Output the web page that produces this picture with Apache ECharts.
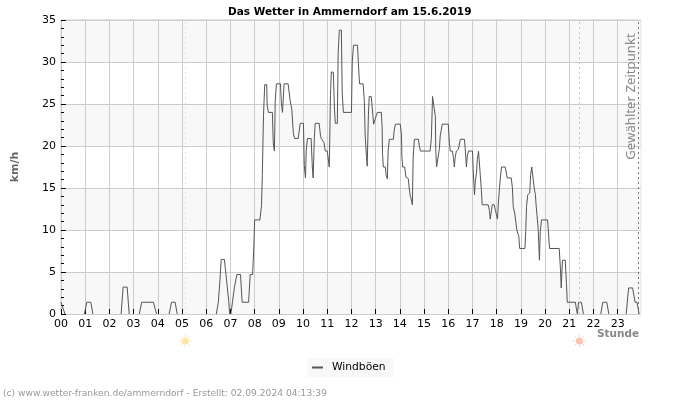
<!DOCTYPE html>
<html>
<head>
<meta charset="utf-8">
<script src="https://cdn.jsdelivr.net/npm/echarts@6/dist/echarts.min.js"></script>
<style>
  html, body { margin: 0; padding: 0; background: #fff; }
  #chart { width: 700px; height: 400px; }
</style>
</head>
<body>
<div id="chart"></div>
<script>
// Minuten seit Mitternacht
const gustMinutes = [
  0, 4, 10, 58, 64, 74, 79, 149, 154, 164, 169, 194, 200, 229, 237, 268, 274, 283, 288,
  385, 390, 395, 397, 405, 409, 416, 418, 421, 425, 430, 436, 445, 449, 465, 469, 475, 478, 480,
  493, 497, 499, 502, 505, 510, 511, 514, 524, 526, 529, 531, 534, 544, 546, 549, 553, 563, 568, 572, 576, 579, 588, 593,
  601, 603, 606, 608, 611, 620, 623, 625, 628, 630, 640, 643, 645, 652, 655, 660, 665, 668, 670, 675, 678, 680, 685, 687, 690, 695, 697, 700,
  720, 722, 725, 735, 737, 740, 749, 752, 754, 757, 759, 762, 764, 769, 773, 775, 779, 782, 784, 794, 796, 797, 799,
  804, 806, 809, 811, 814, 824, 826, 829, 841, 844, 845, 847, 852, 855, 861, 863, 866, 868, 871, 873, 876, 886, 888, 891,
  915, 918, 920, 921, 925, 928, 929, 931, 935, 938, 940, 943, 945, 960, 963, 965, 970, 973, 975, 977, 980, 985, 990,
  1000, 1002, 1005, 1007, 1010, 1020, 1022, 1025, 1027, 1030, 1032, 1035, 1039, 1042, 1044, 1059, 1062, 1064, 1067, 1069, 1074, 1077, 1082, 1084, 1087, 1089, 1092,
  1101, 1104, 1106, 1116, 1119, 1121, 1125, 1130, 1135, 1137, 1150, 1152, 1154, 1157, 1162, 1164, 1167, 1171, 1173, 1176, 1178, 1181, 1183, 1186, 1188, 1191,
  1206, 1208, 1211, 1235, 1238, 1240, 1243, 1250, 1253, 1255, 1275, 1277, 1280, 1283, 1290, 1295,
  1338, 1343, 1353, 1358, 1401, 1407, 1417, 1423, 1428, 1433
]
// Windböen in km/h
const gustValues = [
  1.4, 1.4, 0, 0, 1.4, 1.4, 0, 0, 3.2, 3.2, 0, 0, 1.4, 1.4, 0, 0, 1.4, 1.4, 0,
  0, 1.4, 4.7, 6.5, 6.5, 4.7, 1.4, 0, 0, 1.4, 3.2, 4.7, 4.7, 1.4, 1.4, 4.7, 4.7, 8, 11.2,
  11.2, 12.9, 16.5, 23.7, 27.3, 27.3, 24.9, 24, 24, 20.5, 19.4, 25.3, 27.4, 27.4, 25.3, 24, 27.4, 27.4, 25.4, 24.4, 21.5, 20.9, 20.9, 22.7,
  22.7, 17.7, 16.2, 19.5, 20.9, 20.9, 17.5, 16.2, 20.9, 22.7, 22.7, 21.3, 20.9, 20.4, 19.4, 19.4, 17.5, 26, 28.8, 28.8, 24.3, 22.7, 22.7, 31, 33.8, 33.8, 26.4, 24,
  24, 30, 32, 32, 30, 27.4, 27.4, 25.3, 21.3, 18.9, 17.6, 23.7, 25.9, 25.9, 23.7, 22.6, 22.6, 23.7, 24, 24, 22.3, 19.1, 17.5,
  17.5, 16.5, 16.1, 19.5, 20.8, 20.8, 21.9, 22.6, 22.6, 21.3, 18.7, 17.5, 17.5, 16.3, 16.1, 15, 14, 13.7, 13, 18.7, 20.8, 20.8, 20.1, 19.4,
  19.4, 20.9, 24.1, 25.9, 25.9, 23.5, 19.5, 17.5, 17.5, 19.7, 21.2, 22, 22.6, 22.6, 20.3, 19.4, 19.4, 18.6, 17.5, 18.6, 19.4, 19.6, 20.8,
  20.8, 19.7, 17.5, 18.7, 19.4, 19.4, 16.9, 14.2, 15.8, 16.8, 18.4, 19.4, 19.4, 14.8, 13, 13, 12.3, 11.3, 12.3, 13, 13, 12.3, 11.3, 13, 15, 16.2, 17.5,
  17.5, 16.8, 16.2, 16.2, 15, 12.8, 11.9, 10, 9.2, 7.8, 7.8, 9.8, 12.8, 14.2, 14.4, 16.5, 17.5, 17.5, 15, 14.2, 12.8, 11.2, 10, 6.4, 9.8, 11.2,
  11.2, 10, 7.8, 7.8, 5.4, 3.1, 6.4, 6.4, 3.6, 1.4, 1.4, 0.8, 0, 1.4, 1.4, 0,
  0, 1.4, 1.4, 0, 0, 3.1, 3.1, 1.4, 1.4, 0
]
const hourLabels = ['00', '01', '02', '03', '04', '05', '06', '07', '08', '09', '10', '11', '12', '13', '14', '15', '16', '17', '18', '19', '20', '21', '22', '23']
const hourTicks = [0, 60, 120, 180, 240, 300, 360, 420, 480, 540, 600, 660, 720, 780, 840, 900, 960, 1020, 1080, 1140, 1200, 1260, 1320, 1380]
const sunrise = 308
const sunset = 1285
const selectedTime = 1432

// Flaute wird nicht gezeichnet: zwischen zwei Nullwerten bricht die Linie ab
const gustPoints = []
gustMinutes.forEach((m, i) => {
  if (i > 0 && gustValues[i] === 0 && gustValues[i - 1] === 0) {
    gustPoints.push([m, null])
  }
  gustPoints.push([m, gustValues[i]])
})

const sunRays = 'path://M45 0H55V20H45ZM45 80H55V100H45ZM0 45H20V55H0ZM80 45H100V55H80ZM14 14H26V26H14ZM74 14H86V26H74ZM14 74H26V86H14ZM74 74H86V86H74Z'

const chart = echarts.init(document.getElementById('chart'))
const font = 'DejaVu Sans'

const option = {
  animation: false,
  textStyle: { fontFamily: font },
  title: {
    text: 'Das Wetter in Ammerndorf am 15.6.2019',
    left: 223,
    top: 2,
    textStyle: { fontSize: 10.5, fontWeight: 'bold', color: '#000', fontFamily: font }
  },
  legend: {
    left: 307,
    top: 358,
    data: ['Windböen'],
    icon: 'rect',
    itemWidth: 11,
    itemHeight: 2,
    itemGap: 0,
    padding: [4, 8, 4, 5],
    backgroundColor: '#f8f8f8',
    textStyle: { fontSize: 10.7, color: '#000', fontFamily: font, padding: [0, 0, 0, 4] }
  },
  grid: {
    left: 61,
    right: 59.3,
    top: 20,
    bottom: 86,
    show: true,
    borderColor: '#ccc',
    borderWidth: 1
  },
  xAxis: {
    type: 'value',
    min: 0,
    max: 1437,
    axisLine: { show: false },
    axisTick: { show: true, inside: true, length: 5, customValues: hourTicks, lineStyle: { color: '#000' } },
    axisLabel: {
      color: '#000',
      fontSize: 11,
      margin: 5,
      customValues: hourTicks,
      formatter: v => hourLabels[v / 60]
    },
    splitLine: { show: true, lineStyle: { color: '#ccc' } }
  },
  yAxis: {
    type: 'value',
    min: 0,
    max: 35,
    interval: 5,
    name: 'km/h',
    nameLocation: 'middle',
    nameGap: 40,
    nameTextStyle: { color: '#666', fontWeight: 'bold', fontSize: 11, fontFamily: font },
    axisLine: { show: false },
    axisTick: { show: true, inside: true, length: 5, lineStyle: { color: '#000' } },
    minorTick: { show: true, splitNumber: 5, length: 3, lineStyle: { color: '#000' } },
    axisLabel: { color: '#000', fontSize: 11, margin: 5 },
    splitLine: { show: true, lineStyle: { color: '#ccc' } },
    splitArea: { show: true, areaStyle: { color: ['#f8f8f8', '#fff'] } }
  },
  graphic: [
    {
      type: 'text',
      left: 597,
      top: 329,
      z: 100,
      style: { text: 'Stunde', fill: '#888', font: 'bold 10.5px "DejaVu Sans"' }
    },
    {
      type: 'text',
      x: 631,
      y: 96.5,
      z: 100,
      rotation: Math.PI / 2,
      style: { text: 'Gewählter Zeitpunkt', fill: '#888', font: '13.2px "Noto Sans"', align: 'center', verticalAlign: 'middle' }
    },
    {
      type: 'text',
      left: 3,
      top: 389,
      z: 100,
      style: { text: '(c) www.wetter-franken.de/ammerndorf - Erstellt: 02.09.2024 04:13:39', fill: '#999', font: '9.15px "DejaVu Sans"' }
    }
  ],
  series: [
    {
      name: 'Windböen',
      type: 'line',
      data: gustPoints,
      showSymbol: false,
      symbol: 'none',
      silent: true,
      lineStyle: { color: '#555', width: 1 },
      itemStyle: { color: '#555' },
      markLine: {
        silent: true,
        symbol: 'none',
        animation: false,
        label: { show: false },
        data: [
          { xAxis: sunrise, lineStyle: { color: '#eeee99', type: [2, 3], width: 1 } },
          { xAxis: sunset, lineStyle: { color: '#f5c070', type: [2, 3], width: 1 } },
          { xAxis: selectedTime, lineStyle: { color: '#777', type: [2, 3], width: 1 } }
        ]
      }
    },
    {
      name: 'Sonne',
      type: 'scatter',
      clip: false,
      silent: true,
      symbol: sunRays,
      symbolSize: 13,
      data: [
        { value: [sunrise, -3.2], itemStyle: { color: '#fde8ae' } },
        { value: [sunset, -3.2], itemStyle: { color: '#fdcfc0' } }
      ]
    },
    {
      name: 'Sonnenkern',
      type: 'scatter',
      clip: false,
      silent: true,
      symbol: 'circle',
      symbolSize: 7,
      data: [
        { value: [sunrise, -3.2], itemStyle: { color: '#fde08c' } },
        { value: [sunset, -3.2], itemStyle: { color: '#fdb49c' } }
      ]
    }
  ]
}
chart.setOption(option)
</script>
</body>
</html>
